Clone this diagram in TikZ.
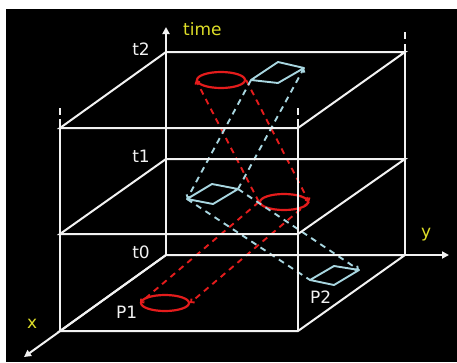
\documentclass[tikz,border=0pt]{standalone}
\usepackage{fontspec}
\setmainfont{DejaVu Sans}
\usetikzlibrary{arrows.meta,shapes.geometric}
\definecolor{myred}{RGB}{228,28,28}
\definecolor{mycyan}{RGB}{168,214,224}
\definecolor{myyel}{RGB}{222,222,40}
\definecolor{mywhite}{RGB}{242,242,242}
\begin{document}
\begin{tikzpicture}[x=1pt,y=-1pt,
  frame/.style={draw=mywhite,line width=2pt},
  axis/.style={frame,-{Triangle[length=7pt,width=7pt]}},
  redell/.style={draw=myred,ellipse,line width=2.2pt,inner sep=0pt,minimum width=48pt,minimum height=16pt},
  cyanpg/.style={draw=mycyan,line width=1.9pt,line join=round},
  reddash/.style={draw=myred,line width=1.9pt,dash pattern=on 6pt off 5pt},
  cyandash/.style={draw=mycyan,line width=1.9pt,dash pattern=on 6pt off 5pt},
  tip/.style={-{Straight Barb[length=2.5pt,width=5pt]}},
  lab/.style={text=mywhite,font=\fontsize{17}{17}\selectfont,inner sep=0pt},
  ylab/.style={lab,text=myyel}]
\useasboundingbox (0,0) rectangle (457,362);
\fill[white] (0,0) rectangle (457,362);
\fill[black] (6,9) rectangle (457,362);
% box corners
\coordinate (B2) at (166,52);  \coordinate (B1) at (166,159); \coordinate (B0) at (166,255);
\coordinate (R2) at (405,52);  \coordinate (R1) at (405,159); \coordinate (R0) at (405,255);
\coordinate (F2) at (60,128);  \coordinate (F1) at (60,234);  \coordinate (F0) at (60,331);
\coordinate (G2) at (298,128); \coordinate (G1) at (298,234); \coordinate (G0) at (298,331);
\coordinate (Tend) at (166,27); \coordinate (Yend) at (449,255); \coordinate (Xend) at (24,357);
% ellipses
\node[redell] (E2) at (221,80) {};
\node[redell] (E1) at (284,202) {};
\node[redell] (E0) at (165,303) {};
% parallelograms
\coordinate (Ta) at (251,80);  \coordinate (Tb) at (278,62);  \coordinate (Tc) at (304,68);  \coordinate (Td) at (278,83);
\coordinate (Ma) at (187,199); \coordinate (Mb) at (212,184); \coordinate (Mc) at (238,189); \coordinate (Md) at (213,204);
\coordinate (Pa) at (310,280); \coordinate (Pb) at (334,266); \coordinate (Pc) at (359,270); \coordinate (Pd) at (334,285);
\draw[cyanpg] (Ta) -- (Tb) -- (Tc) -- (Td) -- cycle;
\draw[cyanpg] (Ma) -- (Mb) -- (Mc) -- (Md) -- cycle;
\draw[cyanpg] (Pa) -- (Pb) -- (Pc) -- (Pd) -- cycle;
% dashed connectors
\draw[reddash,tip] (E1.west) -- (E2.west);
\draw[reddash,tip] (E2.east) -- (E1.east);
\draw[reddash,tip] (E1.west) -- (E0.west);
\draw[reddash,tip] (E1.east) -- (E0.east);
\draw[cyandash,tip] (Ta) -- (Ma);
\draw[cyandash,tip] (Mc) -- (Tc);
\draw[cyandash] (Ma) -- (Pa);
\draw[cyandash,tip] (Mc) -- (Pc);
% frame
\draw[frame] (F2) -- (B2) -- (R2) -- (G2) -- cycle;
\draw[frame] (F1) -- (B1) -- (R1) -- (G1) -- cycle;
\draw[frame] (F0) -- (B0) -- (R0) -- (G0) -- cycle;
\draw[frame] (F2) -- (F0);
\draw[frame] (G2) -- (G0);
\draw[frame] (R2) -- (R0);
\draw[axis] (B0) -- (Tend);
\draw[axis] (B0) -- (Yend);
\draw[axis] (B0) -- (Xend);
% dashed extensions
\draw[frame] (60,108) -- (60,115);
\draw[frame] (60,119) -- (F2);
\draw[frame] (298,108) -- (298,115);
\draw[frame] (298,119) -- (G2);
\draw[frame] (405,32) -- (405,39);
\draw[frame] (405,44) -- (R2);
% labels
\node[ylab,anchor=base west] (time) at (183,35) {time};
\node[ylab,anchor=base west] (xl) at (27,328) {x};
\node[ylab,anchor=base west] (yl) at (421,237) {y};
\node[lab,anchor=base east] (t2) at (150,55) {t2};
\node[lab,anchor=base east] (t1) at (150,162) {t1};
\node[lab,anchor=base east] (t0) at (150,258) {t0};
\node[lab,anchor=base west] (p1) at (116,318) {P1};
\node[lab,anchor=base west] (p2) at (310,303) {P2};
\end{tikzpicture}
\end{document}
